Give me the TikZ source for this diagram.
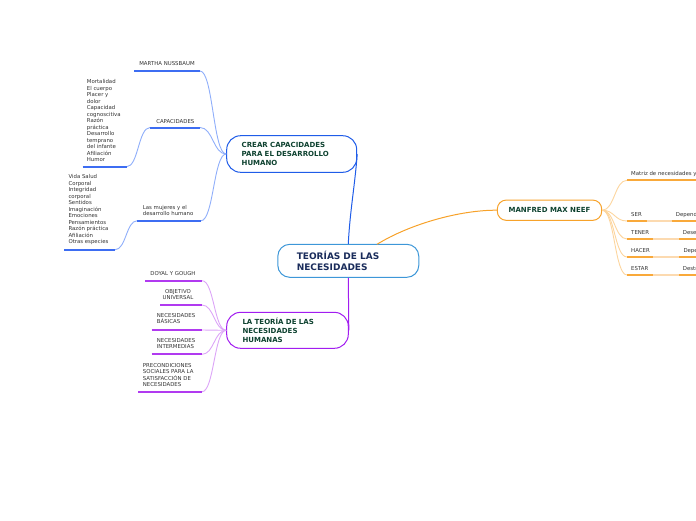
\documentclass[tikz,border=0pt]{standalone}
\usepackage{fontspec}
\setmainfont{DejaVu Sans}
\usetikzlibrary{calc}
\definecolor{leafgray}{HTML}{333333}
\definecolor{bUnder}{HTML}{3D6DF2}
\definecolor{bConn}{HTML}{8FAEFA}
\definecolor{bMain}{HTML}{1F5CE8}
\definecolor{pUnder}{HTML}{B13AF0}
\definecolor{pConn}{HTML}{DCA5F7}
\definecolor{pMain}{HTML}{A21DF0}
\definecolor{oUnder}{HTML}{F9A93A}
\definecolor{oConn}{HTML}{FCD59E}
\definecolor{oLight}{HTML}{FCDAB0}
\definecolor{oMain}{HTML}{F7A22A}
\definecolor{cBorder}{HTML}{3D97D8}
\definecolor{topicgreen}{HTML}{0E4230}
\definecolor{navy}{HTML}{1A2C5B}
\begin{document}
\begin{tikzpicture}[x=1pt,y=-1pt,
  leaf/.style={inner sep=0pt, text depth=0pt, font=\fontsize{5.4}{6.5}\selectfont, text=leafgray, align=left, anchor=south west},
  leafc/.style={leaf, align=center, anchor=south},
  topic/.style={draw, line width=1pt, fill=white, inner ysep=0pt, align=left, font=\fontsize{7}{8.6}\selectfont\bfseries, text=topicgreen},
  mm/.style={to path={let \p1=(\tikztostart), \p2=(\tikztotarget) in .. controls ({(\x1+\x2)/2},\y1) and ({(\x1+\x2)/2},\y2) .. (\tikztotarget)}},
  bconn/.style={draw=bConn, line width=0.9pt},
  bunder/.style={draw=bUnder, line width=2pt},
  pconn/.style={draw=pConn, line width=0.9pt},
  punder/.style={draw=pUnder, line width=2pt},
  oconn/.style={draw=oConn, line width=0.9pt},
  ounder/.style={draw=oUnder, line width=2pt},
  olight/.style={draw=oLight, line width=2pt},
]
\useasboundingbox (0,0) rectangle (696,520);
\clip (0,0) rectangle (696,520);

% main topics
\node[topic, draw=cBorder, text=navy, rounded corners=12pt, text width=103pt, inner xsep=19pt, minimum height=33pt, font=\fontsize{9}{10.5}\selectfont\bfseries] (central) at (348.3,260.8) {TEORÍAS DE LAS\\NECESIDADES};
\node[topic, draw=bMain, rounded corners=14pt, text width=100pt, inner xsep=15pt, minimum height=36.6pt] (crear) at (291.7,154) {CREAR CAPACIDADES\\PARA EL DESARROLLO\\HUMANO};
\node[topic, draw=pMain, rounded corners=14pt, text width=90pt, inner xsep=15.8pt, minimum height=36pt] (teoria) at (287.5,330.3) {LA TEORÍA DE LAS\\NECESIDADES\\HUMANAS};
\node[topic, draw=oMain, rounded corners=9pt, align=center, inner xsep=0pt, minimum width=104.4pt, minimum height=20.3pt] (manfred) at (549.5,210.2) {MANFRED MAX NEEF};

% blue leaves
\node[leafc] (martha) at (167,66) {MARTHA NUSSBAUM};
\coordinate (marthaL) at (134,71); \coordinate (marthaR) at (200,71);
\node[leafc] (capac) at (175.3,123.3) {CAPACIDADES};
\coordinate (capacL) at (150,127.5); \coordinate (capacR) at (200,127.5);
\node[leaf] (mortal) at (86.7,162) {Mortalidad\\El cuerpo\\Placer y\\dolor\\Capacidad\\cognoscitiva\\Razón\\práctica\\Desarrollo\\temprano\\del infante\\Afiliación\\Humor};
\coordinate (mortalL) at (82.7,166.7); \coordinate (mortalR) at (126.7,166.7);
\node[leaf] (mujeres) at (142.7,215.7) {Las mujeres y el\\desarrollo humano};
\coordinate (mujeresL) at (137.3,220.7); \coordinate (mujeresR) at (201,220.7);
\node[leaf] (vida) at (68.3,244) {Vida Salud\\Corporal\\Integridad\\corporal\\Sentidos\\Imaginación\\Emociones\\Pensamientos\\Razón práctica\\Afiliación\\Otras especies};
\coordinate (vidaL) at (64,249.7); \coordinate (vidaR) at (115,249.7);

% purple leaves
\node[leafc] (doyal) at (173,275.7) {DOYAL Y GOUGH};
\coordinate (doyalL) at (145,280.7); \coordinate (doyalR) at (202,280.7);
\node[leafc] (objet) at (178,300) {OBJETIVO\\UNIVERSAL};
\coordinate (objetL) at (160,305); \coordinate (objetR) at (202,305);
\node[leaf] (basic) at (156.7,323.7) {NECESIDADES\\BÁSICAS};
\coordinate (basicL) at (151.7,330); \coordinate (basicR) at (202,330);
\node[leaf] (inter) at (156.7,348.7) {NECESIDADES\\INTERMEDIAS};
\coordinate (interL) at (151.7,354.3); \coordinate (interR) at (202,354.3);
\node[leaf] (precon) at (142.7,386.7) {PRECONDICIONES\\SOCIALES PARA LA\\SATISFACCIÓN DE\\NECESIDADES};
\coordinate (preconL) at (138.3,391.7); \coordinate (preconR) at (202,391.7);

% orange leaves
\node[leaf] (matriz) at (631,175.7) {Matriz de necesidades y};
\coordinate (matrizL) at (627,180.3); \coordinate (matrizR) at (697,180.3);
\node[leaf] (ser) at (631,216.7) {SER};
\coordinate (serL) at (627,221); \coordinate (serR) at (646.7,221);
\node[leaf] (serD) at (675.7,216.7) {Depend};
\coordinate (serDL) at (671.7,221); \coordinate (serDR) at (697,221);
\node[leaf] (tener) at (631,234.7) {TENER};
\coordinate (tenerL) at (627,239); \coordinate (tenerR) at (653.3,239);
\node[leaf] (tenerD) at (682.7,234.7) {Dese};
\coordinate (tenerDL) at (679,239); \coordinate (tenerDR) at (697,239);
\node[leaf] (hacer) at (631,252.7) {HACER};
\coordinate (hacerL) at (627,257); \coordinate (hacerR) at (653.3,257);
\node[leaf] (hacerD) at (683.3,252.7) {Depe};
\coordinate (hacerDL) at (679.3,257); \coordinate (hacerDR) at (697,257);
\node[leaf] (estar) at (631,271) {ESTAR};
\coordinate (estarL) at (627,275); \coordinate (estarR) at (653.3,275);
\node[leaf] (estarD) at (682.7,271) {Destr};
\coordinate (estarDL) at (679,275); \coordinate (estarDR) at (697,275);

% main connectors
\draw[bMain, line width=1pt] (central.north) .. controls (350,210) and (355,185) .. (crear.east);
\draw[pMain, line width=1pt] (central.south) -- (teoria.east);
\coordinate (cO) at (377,244.3);
\draw[oMain, line width=1pt] (cO) .. controls (410,224) and (460,210) .. (manfred.west);

% blue connectors
\draw[bconn] (marthaR) to[mm] (crear.west);
\draw[bconn] (capacR) to[mm] (crear.west);
\draw[bconn] (mujeresR) to[mm] (crear.west);
\draw[bconn] (mortalR) to[mm] (capacL);
\draw[bconn] (vidaR) to[mm] (mujeresL);
\draw[bunder] (marthaL) -- (marthaR);
\draw[bunder] (capacL) -- (capacR);
\draw[bunder] (mortalL) -- (mortalR);
\draw[bunder] (mujeresL) -- (mujeresR);
\draw[bunder] (vidaL) -- (vidaR);

% purple connectors
\foreach \k in {doyal,objet,basic,inter,precon}{
  \draw[pconn] (\k R) to[mm] (teoria.west);
  \draw[punder] (\k L) -- (\k R);
}

% orange connectors
\foreach \k in {matriz,ser,tener,hacer,estar}{
  \draw[oconn] (manfred.east) to[mm] (\k L);
  \draw[ounder] (\k L) -- (\k R);
}
\foreach \k in {ser,tener,hacer,estar}{
  \draw[olight] (\k R) -- (\k DL);
  \draw[ounder] (\k DL) -- (\k DR);
}
\end{tikzpicture}
\end{document}
